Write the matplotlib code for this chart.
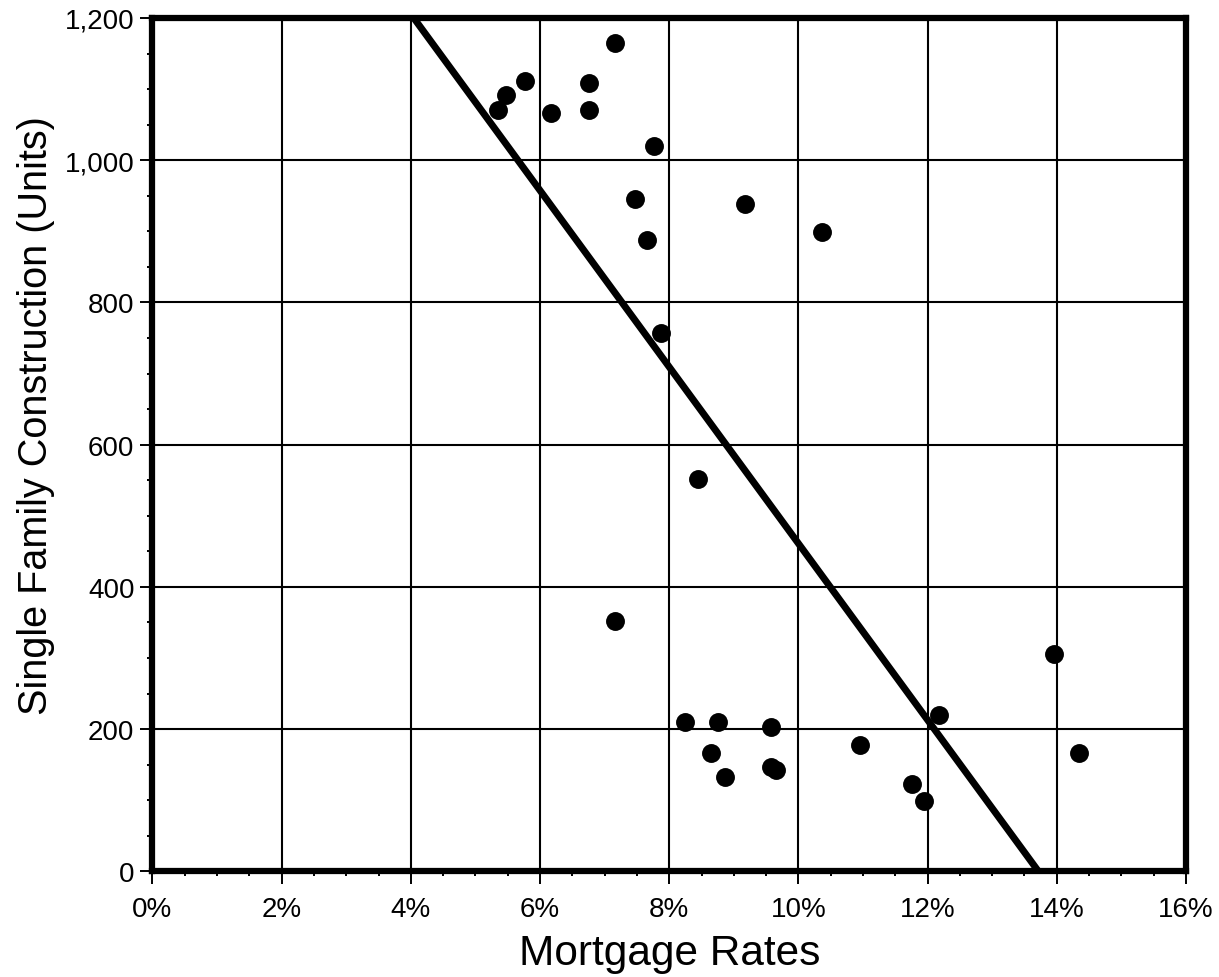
import matplotlib
matplotlib.use("Agg")
import matplotlib.pyplot as plt
import numpy as np
from matplotlib.ticker import MultipleLocator, FuncFormatter

plt.rcParams["font.family"] = ["Liberation Sans", "DejaVu Sans"]

# Mortgage rate (%) vs single family construction (units)
mortgage_rate = [5.35, 5.47, 5.76, 6.17, 6.76, 6.76, 7.16, 7.77, 7.47, 7.65,
                 9.18, 10.37, 7.87, 8.45, 7.16, 8.24, 8.76, 8.64, 8.86, 9.57,
                 9.57, 9.65, 10.95, 11.76, 11.95, 12.17, 13.95, 14.35]
construction = [1071, 1091, 1111, 1067, 1108, 1071, 1165, 1020, 945, 888,
                939, 899, 757, 551, 352, 210, 210, 167, 133, 203,
                147, 142, 177, 123, 99, 220, 305, 166]

# Linear trend: units = intercept + slope * rate
trend_intercept = 1702.0
trend_slope = -124.1

fig = plt.figure(figsize=(12.19, 9.78), dpi=100)
ax = fig.add_axes([0.1251, 0.1081, 0.8478, 0.8725])

ax.set_xlim(0, 16)
ax.set_ylim(0, 1200)

ax.grid(True, which="major", color="black", linewidth=1.5)
ax.set_axisbelow(True)

ax.scatter(mortgage_rate, construction, s=185, color="black", zorder=3,
           linewidths=0)

xs = np.array([0.0, 16.0])
ax.plot(xs, trend_intercept + trend_slope * xs, color="black",
        linewidth=5.0, zorder=4, solid_capstyle="butt")

for sp in ax.spines.values():
    sp.set_linewidth(4.5)
    sp.set_zorder(5)

ax.xaxis.set_major_locator(MultipleLocator(2))
ax.xaxis.set_minor_locator(MultipleLocator(0.5))
ax.yaxis.set_major_locator(MultipleLocator(200))
ax.yaxis.set_minor_locator(MultipleLocator(50))
ax.xaxis.set_major_formatter(FuncFormatter(lambda v, p: f"{v:.0f}%"))
ax.yaxis.set_major_formatter(FuncFormatter(lambda v, p: f"{v:,.0f}"))

ax.tick_params(which="major", direction="out", length=9, width=1.4,
               labelsize=20, color="black")
ax.tick_params(which="minor", direction="out", length=3.5, width=1.4,
               color="black")
ax.tick_params(axis="x", which="major", pad=9)
ax.tick_params(axis="y", which="major", pad=4)

ax.set_xlabel("Mortgage Rates", fontsize=30.5, labelpad=8)
ax.set_ylabel("Single Family Construction (Units)", fontsize=28.5)
ax.yaxis.set_label_coords(-0.094, 0.535)

fig.savefig("out.png", dpi=100)
